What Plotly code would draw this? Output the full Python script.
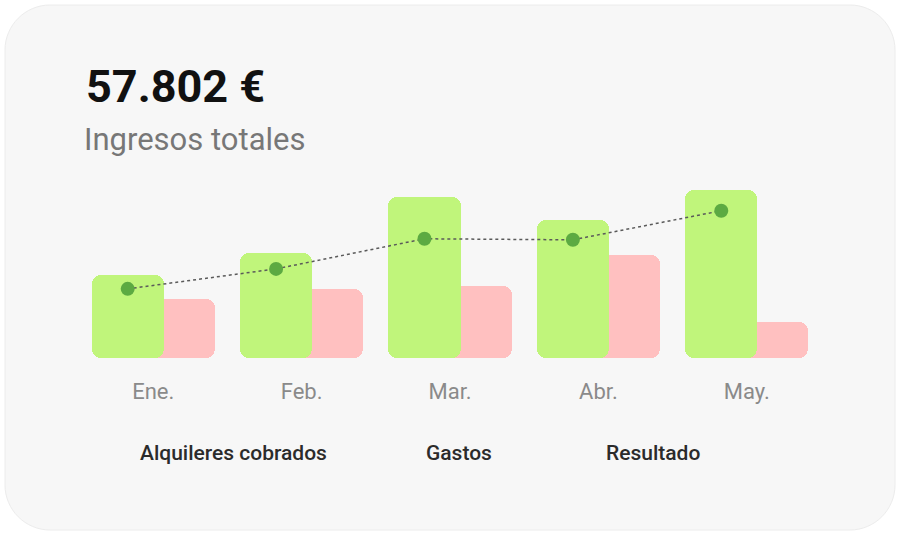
import plotly.graph_objects as go

# data (euros)
months = ["Ene.", "Feb.", "Mar.", "Abr.", "May."]
alquileres = [7330, 9270, 14210, 12170, 14822]
gastos = [5200, 6090, 6350, 9080, 3180]
resultado = [6090, 7850, 10500, 10410, 12970]
total_label = "57.802 €"
subtitle = "Ingresos totales"
legend_names = ["Alquileres cobrados", "Gastos", "Resultado"]

GREEN = "#c0f57b"
PINK = "#ffc0c0"
DOT = "#5caa42"

W, H = 900, 535
L, R, T, B = 79, 79, 165, 177
pw, ph = W - L - R, H - T - B


def px(x):
    return (x - L) / pw


def py(y):
    return (H - B - y) / ph


idx = list(range(len(months)))
bar_w = 0.486
green_off = -0.415
pink_off = -0.071
dot_x = [i + green_off + bar_w / 2 for i in idx]


def rounded_bar(vals, color, offset):
    # two overlapping halves so both ends get rounded corners
    lower = go.Bar(x=idx, y=[-v * 0.8 for v in vals], base=[v * 0.8 for v in vals],
                   offset=offset, width=bar_w,
                   marker=dict(color=color, line_width=0, cornerradius=9),
                   showlegend=False, hoverinfo="skip")
    upper = go.Bar(x=idx, y=[v * 0.8 for v in vals], base=[v * 0.2 for v in vals],
                   offset=offset, width=bar_w,
                   marker=dict(color=color, line_width=0, cornerradius=9),
                   showlegend=False)
    return [lower, upper]


fig = go.Figure()
for tr in rounded_bar(gastos, PINK, pink_off):
    fig.add_trace(tr)
for tr in rounded_bar(alquileres, GREEN, green_off):
    fig.add_trace(tr)
fig.add_trace(go.Scatter(
    x=dot_x, y=resultado, mode="lines+markers",
    line=dict(color="#5a5a5a", width=1.5, dash="dot"),
    marker=dict(color=DOT, size=14),
    showlegend=False,
))

# card background
x0, x1, y0, y1, r = 5, 895, 5, 530, 45
k = 0.45
path = (
    f"M {px(x0 + r)},{py(y0)} L {px(x1 - r)},{py(y0)} "
    f"C {px(x1 - r * k)},{py(y0)} {px(x1)},{py(y0 + r * k)} {px(x1)},{py(y0 + r)} "
    f"L {px(x1)},{py(y1 - r)} "
    f"C {px(x1)},{py(y1 - r * k)} {px(x1 - r * k)},{py(y1)} {px(x1 - r)},{py(y1)} "
    f"L {px(x0 + r)},{py(y1)} "
    f"C {px(x0 + r * k)},{py(y1)} {px(x0)},{py(y1 - r * k)} {px(x0)},{py(y1 - r)} "
    f"L {px(x0)},{py(y0 + r)} "
    f"C {px(x0)},{py(y0 + r * k)} {px(x0 + r * k)},{py(y0)} {px(x0 + r)},{py(y0)} Z"
)
fig.add_shape(type="path", path=path, xref="paper", yref="paper",
              fillcolor="#f7f7f7", line=dict(color="#ececec", width=1), layer="below")

fig.add_annotation(text=f"<b>{total_label}</b>", x=px(84), y=py(87), xref="paper", yref="paper",
                   xanchor="left", yanchor="middle", showarrow=False,
                   font=dict(size=45, color="#111111"))
fig.add_annotation(text=subtitle, x=px(82), y=py(139), xref="paper", yref="paper",
                   xanchor="left", yanchor="middle", showarrow=False,
                   font=dict(size=31, color="#777777"))
for name, cx in zip(legend_names, [233, 459, 653]):
    fig.add_annotation(text=name, x=px(cx), y=py(453), xref="paper", yref="paper",
                       xanchor="center", yanchor="middle", showarrow=False,
                       font=dict(size=21, color="#2b2b2b", weight=500))

fig.update_layout(
    width=W, height=H,
    margin=dict(l=L, r=R, t=T, b=B),
    paper_bgcolor="white",
    plot_bgcolor="rgba(0,0,0,0)",
    barmode="overlay",
    bargap=0,
    font=dict(family="Roboto"),
    xaxis=dict(range=[-0.5, 4.5], tickvals=idx, ticktext=months, showgrid=False,
               zeroline=False, showline=False, ticks="", ticklabelstandoff=18,
               tickfont=dict(size=22, color="#8a8a8a"), fixedrange=True),
    yaxis=dict(range=[0, 17000], visible=False, fixedrange=True),
)

fig.write_html("out.html", config={"displayModeBar": False},
               post_script="document.body.style.margin='0';")
